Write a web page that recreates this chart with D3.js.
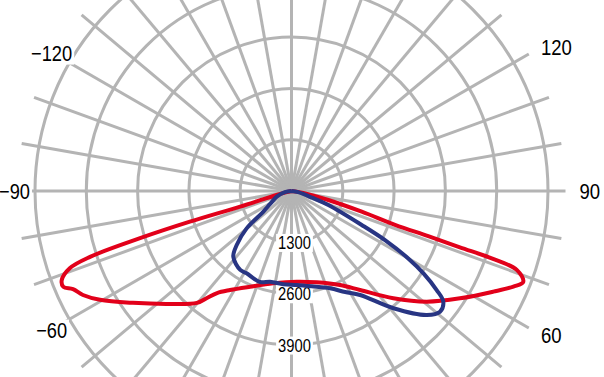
<!DOCTYPE html>
<html>
<head>
<meta charset="utf-8">
<script src="https://cdn.jsdelivr.net/npm/d3@7"></script>
<style>
  body { margin: 0; background: #fff; }
  svg { display: block; }
</style>
</head>
<body>
<div id="chart"></div>
<script>
// luminous intensity (cd), gamma in degrees (0 = straight down)
var redGamma = [-90, -76, -74.9, -73.1, -73.2, -72.7, -71.9, -70.8, -68.8, -67.2, -65.8, -63.5, -60.4,
  -54.8, -47.8, -40.2, -38.3, -36.1, -31.8, -23.4, -11.3, 3.3, 15.4, 27.3, 34.7, 43.5, 50.7, 57.5,
  63.5, 66.7, 68.6, 70.7, 71.4, 71.5, 71.7, 71.9, 73.6, 76.3, 81, 90];
var redCd = [0, 150, 390, 1360, 2690, 4020, 5370, 5950, 6245, 6270, 6070, 5905, 5583,
  4918, 4261, 3713, 3455, 3201, 2953, 2643, 2387, 2302, 2400, 2681, 3051, 3748, 4428, 5063,
  5715, 6122, 6308, 6049, 5370, 4500, 3650, 2760, 1855, 960, 300, 0];

var blueGamma = [-90, -80, -69, -58.5, -53.7, -50.2, -45.4, -41.5, -33, -28.6, -19, -13.3, -5, 3.2,
  12, 21.6, 28, 33.4, 41, 47.5, 50.9, 53.9, 55.7, 58, 60, 62.3, 64.2, 69.2, 72, 80, 90];
var blueCd = [0, 170, 400, 640, 890, 1480, 1950, 2225, 2385, 2375, 2440, 2362, 2370, 2385,
  2470, 2652, 2900, 3156, 3936, 4650, 4850, 4761, 4453, 3950, 3416, 2676, 1977, 998, 550, 170, 0];

// grid rings and the labels that are visible in the frame
var ringValues = [1300, 2600, 3900, 5200, 6500];
var ringLabels = [1300, 2600, 3900];
var angleLabels = [-120, -90, -60, 60, 90, 120];

var width = 604,
    height = 377,
    cx = 291.5,
    cy = 191;

var svg = d3.select("#chart").append("svg")
    .attr("width", width)
    .attr("height", height);

var r = d3.scaleLinear().domain([0, 6500]).range([0, 256.5]);
var rad = function(deg) { return deg * Math.PI / 180; };

var g = svg.append("g").attr("transform", "translate(" + cx + "," + cy + ")");

// spokes every 10 degrees
g.append("g").selectAll("line")
    .data(d3.range(0, 360, 10))
    .enter().append("line")
    .attr("x1", 0).attr("y1", 0)
    .attr("x2", function(d) { return 274 * Math.sin(rad(d)); })
    .attr("y2", function(d) { return 274 * Math.cos(rad(d)); })
    .attr("stroke", "#b4b4b4")
    .attr("stroke-width", 3);

// rings
g.append("g").selectAll("circle")
    .data(ringValues)
    .enter().append("circle")
    .attr("r", function(d) { return r(d); })
    .attr("fill", "none")
    .attr("stroke", "#b4b4b4")
    .attr("stroke-width", 3);

var font = "'Liberation Sans', Arial, sans-serif";

// helper: narrow text with a white box behind it
function boxedText(parent, x, y, txt, size, charW, anchor) {
    var grp = parent.append("g");
    var t = grp.append("text")
        .attr("x", x).attr("y", y)
        .attr("text-anchor", anchor)
        .attr("dy", "0.36em")
        .attr("font-family", font)
        .attr("font-size", size)
        .attr("textLength", txt.length * charW)
        .attr("lengthAdjust", "spacingAndGlyphs")
        .attr("fill", "#000")
        .text(txt);
    var b = t.node().getBBox();
    grp.insert("rect", "text")
        .attr("x", b.x - 2).attr("y", b.y + 2)
        .attr("width", b.width + 4).attr("height", b.height - 3)
        .attr("fill", "#fff");
}

// ring labels along the 0 degree spoke
var ringG = g.append("g");
ringLabels.forEach(function(v) {
    boxedText(ringG, 3, r(v), String(v), 18.5, 8.2, "middle");
});

// angle labels
var angG = g.append("g");
angleLabels.forEach(function(a) {
    var txt = a < 0 ? "\u2212" + (-a) : String(a);
    if (a > 0) {
        boxedText(angG, 288 * Math.sin(rad(a)), 288 * Math.cos(rad(a)), txt, 22.5, 10.3, "start");
    } else {
        boxedText(angG, 277 * Math.sin(rad(a)), 277 * Math.cos(rad(a)), txt, 22.5, 10.3, "middle");
    }
});

// polar curves: lineRadial angle is clockwise from 12 o'clock, so gamma maps to PI - gamma
var curve = d3.lineRadial()
    .angle(function(d) { return Math.PI - rad(d[0]); })
    .radius(function(d) { return r(d[1]); })
    .curve(d3.curveCatmullRom.alpha(0.5));

var series = [
    { gamma: redGamma, cd: redCd, color: "#e2001a" },
    { gamma: blueGamma, cd: blueCd, color: "#283583" }
];

g.append("g").selectAll("path")
    .data(series)
    .enter().append("path")
    .attr("d", function(s) { return curve(s.gamma.map(function(a, i) { return [a, s.cd[i]]; })); })
    .attr("fill", "none")
    .attr("stroke", function(s) { return s.color; })
    .attr("stroke-width", 4)
    .attr("stroke-linejoin", "round");
</script>
</body>
</html>
